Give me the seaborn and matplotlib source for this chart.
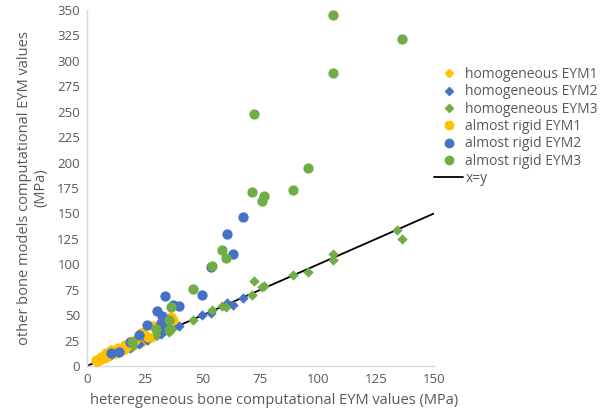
import matplotlib
matplotlib.use("Agg")
import matplotlib.pyplot as plt
import seaborn as sns
import pandas as pd
from matplotlib.lines import Line2D

# ---- data ----
hom1_x = [4, 5, 6.2, 7, 8.3, 9, 10.5, 12, 13.4, 14, 16.3, 17, 18.4, 20.6, 23.5, 24, 26.5, 28.5, 30, 36.5, 37.3]
hom1_y = [4, 5, 6, 7, 8, 9, 10.5, 12, 13, 14, 16, 17, 18, 20.5, 23, 24, 26, 28.5, 30, 36, 37]
hom2_x = [10.5, 14, 18.5, 22.3, 26.1, 30.1, 31.8, 32.5, 33.4, 33.8, 34.5, 37.3, 39.9, 49.7, 53.5, 60.4, 63, 67.3]
hom2_y = [10.5, 13.5, 18, 22, 25.5, 30.5, 31, 33, 34, 36, 35, 38, 39.5, 50, 52.5, 61.5, 60, 66.5]
hom3_x = [19.5, 30, 35.5, 35.5, 36.5, 46, 54, 58.3, 60, 71.5, 72.3, 75.5, 76.6, 89, 95.5, 106.3, 106.5, 133.9, 136.3]
hom3_y = [19, 30, 33, 37, 37, 45, 55.5, 59, 58.5, 69.5, 83.6, 77.4, 78.7, 89, 92.4, 109.8, 104.2, 133.7, 124.6]
rig1_x = [4, 5, 6.2, 7, 8.3, 9, 10.5, 12, 13.4, 14, 16.3, 17, 18.4, 20.6, 23.5, 24, 26.5, 28.5, 30, 36.5, 37.3]
rig1_y = [5.9, 6, 9.2, 9, 12.5, 11, 15.7, 14.5, 17.4, 16, 20.6, 19, 24, 25.6, 32, 32, 29, 39, 38, 48.5, 45.5]
rig2_x = [10.5, 14, 18.5, 22.3, 26.1, 30.1, 31.8, 32.5, 33.4, 33.8, 34.5, 37.3, 39.9, 49.7, 53.5, 60.4, 63, 67.3]
rig2_y = [12.5, 14, 24, 30.5, 40.5, 54.5, 42, 49.3, 37, 68.5, 45, 60, 59, 69.5, 97, 129.5, 110, 146.8]
rig3_x = [19.5, 30, 35.5, 35.5, 36.5, 46, 54, 58.3, 60, 71.5, 72.3, 75.5, 76.6, 89, 95.5, 106.3, 106.5, 136.3]
rig3_y = [23.5, 36.5, 35.5, 45, 58, 76, 98.5, 114, 106, 171, 248, 162, 167, 173, 195, 345, 288, 321.5]
line_x = [0, 150]
line_y = [0, 150]

labels = ["homogeneous EYM1", "homogeneous EYM2", "homogeneous EYM3",
          "almost rigid EYM1", "almost rigid EYM2", "almost rigid EYM3"]
x_ticks = [0, 25, 50, 75, 100, 125, 150]
y_ticks = list(range(0, 351, 25))

sns.set_theme(style="white")
plt.rcParams['font.family'] = ['Open Sans', 'DejaVu Sans']

YEL, BLU, GRN = "#FFC000", "#4472C4", "#70AD47"
GRAY = "#595959"

fig = plt.figure(figsize=(6.02, 4.18), dpi=100)
ax = fig.add_axes([0.1445, 0.1244, 0.5765, 0.8516])

sns.lineplot(x=line_x, y=line_y, color="black", linewidth=1.3, ax=ax, zorder=1)

series = [
    (hom1_x, hom1_y, YEL, "D", 28),
    (hom2_x, hom2_y, BLU, "D", 28),
    (hom3_x, hom3_y, GRN, "D", 28),
    (rig1_x, rig1_y, YEL, "o", 55),
    (rig2_x, rig2_y, BLU, "o", 55),
    (rig3_x, rig3_y, GRN, "o", 55),
]
for (xs, ys, c, m, s) in series:
    sns.scatterplot(x=xs, y=ys, color=c, marker=m, s=s, linewidth=0, ax=ax, zorder=3)

ax.set_xlim(0, 150)
ax.set_ylim(0, 350)
ax.set_xticks(x_ticks)
ax.set_yticks(y_ticks)
ax.tick_params(axis="both", length=0, labelsize=9.5, labelcolor=GRAY, pad=5)
for side in ["top", "right"]:
    ax.spines[side].set_visible(False)
for side in ["left", "bottom"]:
    ax.spines[side].set_color("#D9D9D9")
    ax.spines[side].set_linewidth(1)

ax.set_xlabel("heteregeneous bone computational EYM values (MPa)", fontsize=10.5, color=GRAY, labelpad=0)
ax.set_ylabel("other bone models computational EYM values\n(MPa)", fontsize=10.5, color=GRAY, labelpad=6)
ax.xaxis.set_label_coords(0.54, -0.075)

handles = []
for (xs, ys, c, m, s), lab in zip(series, labels):
    handles.append(Line2D([], [], linestyle="none", marker=m, color=c,
                          markersize=4.5 if m == "D" else 6, label=lab))
handles.append(Line2D([], [], color="black", linewidth=1.3, label="x=y"))
leg = fig.legend(handles=handles, loc="upper left", bbox_to_anchor=(0.712, 0.853),
                 frameon=False, fontsize=10, handlelength=2.1, handletextpad=0.15,
                 labelspacing=0.17, borderaxespad=0)
for t in leg.get_texts():
    t.set_color(GRAY)

fig.savefig("out.png", dpi=100)
